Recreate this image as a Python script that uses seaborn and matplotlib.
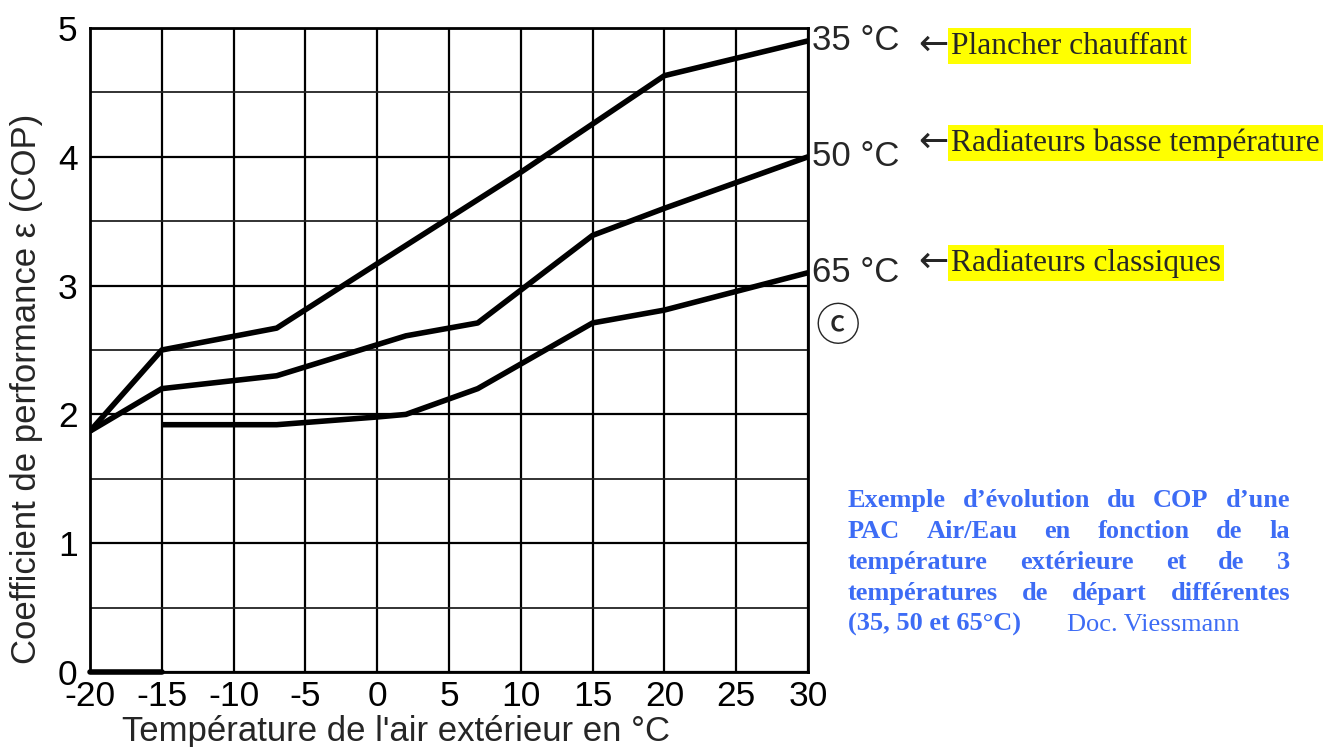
import pandas as pd
import seaborn as sns
import matplotlib.pyplot as plt

# values (outdoor temp in degC -> COP)
t35 = [-20, -15, -7, 0, 10, 20, 30]
cop35 = [1.87, 2.50, 2.67, 3.17, 3.88, 4.63, 4.90]
t50 = [-20, -15, -7, 2, 7, 15, 20, 30]
cop50 = [1.87, 2.20, 2.30, 2.61, 2.71, 3.39, 3.60, 4.00]
t65 = [-15, -7, 0, 2, 7, 15, 20, 30]
cop65 = [1.92, 1.92, 1.98, 2.00, 2.20, 2.71, 2.81, 3.10]
t_base = [-20, -15]
cop_base = [0, 0]

depart = ["35 °C", "50 °C", "65 °C"]
usages = ["Plancher chauffant", "Radiateurs basse température", "Radiateurs classiques"]
xticks = list(range(-20, 31, 5))
yticks = [0, 1, 2, 3, 4, 5]

note_lines = ["Exemple d’évolution du COP d’une",
              "PAC Air/Eau en fonction de la",
              "température extérieure et de 3",
              "températures de départ différentes"]
note_last = "(35, 50 et 65°C)"
note_src = "Doc. Viessmann"

df = pd.concat([
    pd.DataFrame({"temp": t35, "cop": cop35, "serie": depart[0]}),
    pd.DataFrame({"temp": t50, "cop": cop50, "serie": depart[1]}),
    pd.DataFrame({"temp": t65, "cop": cop65, "serie": depart[2]}),
])

sns.set_style("white")
plt.rcParams['font.family'] = ['Liberation Sans', 'DejaVu Sans']
plt.rcParams['axes.unicode_minus'] = False

W, H = 1329, 747
fig = plt.figure(figsize=(W / 100, H / 100), dpi=100)
ax = fig.add_axes([90 / W, 75 / H, 718 / W, 644 / H])

sns.lineplot(data=df, x="temp", y="cop", hue="serie", palette=["black"] * 3,
             estimator=None, sort=False, lw=4, legend=False, ax=ax,
             solid_joinstyle="round", solid_capstyle="butt")
sns.lineplot(x=t_base, y=cop_base, color="black", lw=4, ax=ax, clip_on=False)

ax.set_xlim(-20, 30)
ax.set_ylim(0, 5)
ax.set_xticks(xticks)
ax.set_yticks(yticks)
ax.set_yticks([i + 0.5 for i in range(5)], minor=True)
ax.grid(True, which="major", color="black", lw=1.6)
ax.grid(True, which="minor", axis="y", color="#222222", lw=1.3)
ax.set_axisbelow(True)
for s in ax.spines.values():
    s.set_color("black")
    s.set_linewidth(2)
ax.tick_params(axis="both", which="both", length=0, labelsize=25.5, colors="black")
ax.tick_params(axis="y", pad=9)
ax.tick_params(axis="x", pad=6)

ax.set_xlabel("Température de l'air extérieur en °C", fontsize=25)
ax.set_ylabel("Coefficient de performance ε (COP)", fontsize=25)
ax.xaxis.set_label_coords(0.426, -0.067)
ax.yaxis.set_label_coords(-0.066, 0.44)

# labels at the right end of each curve
for lab, ys in zip(depart, [cop35, cop50, cop65]):
    ax.annotate(lab, xy=(30, ys[-1]), xytext=(3, 0), textcoords="offset points",
                ha="left", va="center", fontsize=25, annotation_clip=False)
ax.text(1.042, 0.535, "ⓒ", transform=ax.transAxes, ha="center", va="center",
        fontsize=32, family=['Noto Sans CJK JP', 'DejaVu Sans'])

# usage annotations with yellow highlight
usage_y = [46, 143, 263]
for lab, yy in zip(usages, usage_y):
    fig.text(949 / W, 1 - (yy - 1) / H, "←", ha="right", va="center", fontsize=26,
             family=['DejaVu Sans'])
    fig.text(951 / W, 1 - yy / H, lab, ha="left", va="center", fontsize=22.7,
             family=['Liberation Serif'],
             bbox=dict(facecolor="#ffff00", edgecolor="none", pad=2.5))

# justified blue note
blue = "#3d6cf5"
left, right = 848, 1290
base0, step = 507, 31
fs = 19
fig.canvas.draw()
r = fig.canvas.get_renderer()
for i, line in enumerate(note_lines):
    words = line.split()
    ts = [fig.text(0, 0, w, fontsize=fs, weight="bold", color=blue,
                   family=['Liberation Serif'], va="baseline") for w in words]
    ws = [t.get_window_extent(r).width for t in ts]
    gap = (right - left - sum(ws)) / (len(words) - 1)
    x = left
    for t, w in zip(ts, ws):
        t.set_position((x / W, 1 - (base0 + i * step) / H))
        x += w + gap
yl = 1 - (base0 + 4 * step) / H
fig.text(left / W, yl, note_last, fontsize=fs, weight="bold", color=blue,
         family=['Liberation Serif'], va="baseline")
fig.text(1067 / W, yl, note_src, fontsize=fs, color=blue,
         family=['Liberation Serif'], va="baseline")

fig.savefig("out.png", dpi=100)
